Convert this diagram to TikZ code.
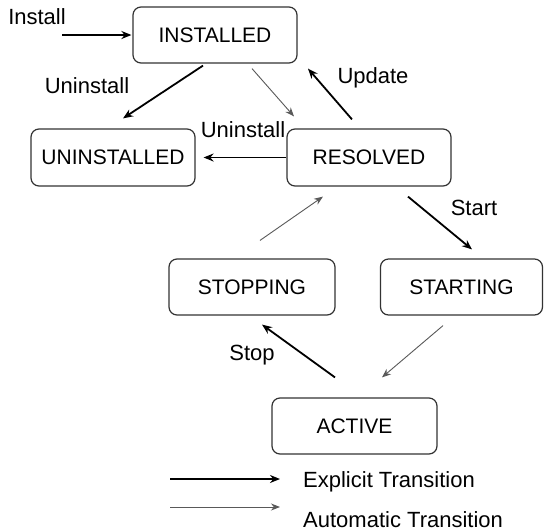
\documentclass[tikz,border=0pt]{standalone}
\usepackage{fontspec}
\setmainfont{Liberation Sans}
\usetikzlibrary{calc,arrows.meta}
\tikzset{
  state/.style={draw=black!80, line width=1.2pt, rounded corners=8pt, minimum width=164pt, minimum height=56pt, inner sep=0pt, font=\fontsize{21}{25}\selectfont},
  explicit/.style={line width=1.8pt, draw=black, -{Stealth[length=10pt,width=8pt]}},
  automatic/.style={line width=0.9pt, draw=black!65, -{Stealth[length=9pt,width=7pt]}},
  lbl/.style={font=\fontsize{22}{26}\selectfont, inner sep=0pt}
}
\begin{document}
\begin{tikzpicture}[x=1pt,y=-1pt]
\useasboundingbox[fill=white] (0,0) rectangle (544,531);
% states
\node[state] (INS) at (215,35) {INSTALLED};
\node[state, minimum height=57pt] (UNI) at (113,157.5) {UNINSTALLED};
\node[state, minimum height=57pt] (RES) at (369,157.5) {RESOLVED};
\node[state, minimum width=166pt] (STP) at (252,287) {STOPPING};
\node[state, minimum width=162pt] (STR) at (461.5,287) {STARTING};
\node[state, minimum width=165pt] (ACT) at (354.5,426) {ACTIVE};
% transitions
\coordinate (installsrc) at (62,35);
\draw[explicit] (installsrc) -- ($(INS.west)+(-1,0)$);
\draw[explicit] ($(INS.south)+(-12,2)$) -- ($(UNI.north)+(10,-10)$);
\draw[automatic] ($(INS.south)+(37,5)$) -- ($(RES.north)+(-75,-12)$);
\draw[explicit] ($(RES.north)+(-17,-9)$) -- ($(INS.south)+(93,5)$);
\draw[explicit] (RES.west) -- ($(UNI.east)+(8,0)$);
\draw[explicit] ($(RES.south)+(39,10)$) -- ($(STR.north)+(10.5,-9)$);
\draw[automatic] ($(STP.north)+(8,-18)$) -- ($(RES.south)+(-46,10)$);
\draw[automatic] ($(STR.south)+(-18.5,10)$) -- ($(ACT.north)+(27.5,-20)$);
\draw[explicit] ($(ACT.north)+(-19.5,-20)$) -- ($(STP.south)+(10,9)$);
% labels
\node[lbl] (linstall) at (37,17) {Install};
\node[lbl] (luninst1) at (87,86) {Uninstall};
\node[lbl] (lupdate) at (373,78) {Update};
\node[lbl] (luninst2) at (243,130) {Uninstall};
\node[lbl] (lstart) at (474,208) {Start};
\node[lbl] (lstop) at (252,355) {Stop};
% legend
\coordinate (l1a) at (170,479);
\coordinate (l1b) at (280,479);
\coordinate (l2a) at (170,507);
\coordinate (l2b) at (280,507);
\draw[explicit] (l1a) -- (l1b);
\draw[automatic] (l2a) -- (l2b);
\node[lbl, anchor=west] (lexp) at (303,482) {Explicit Transition};
\node[lbl, anchor=west] (laut) at (303,520) {Automatic Transition};
\end{tikzpicture}
\end{document}
